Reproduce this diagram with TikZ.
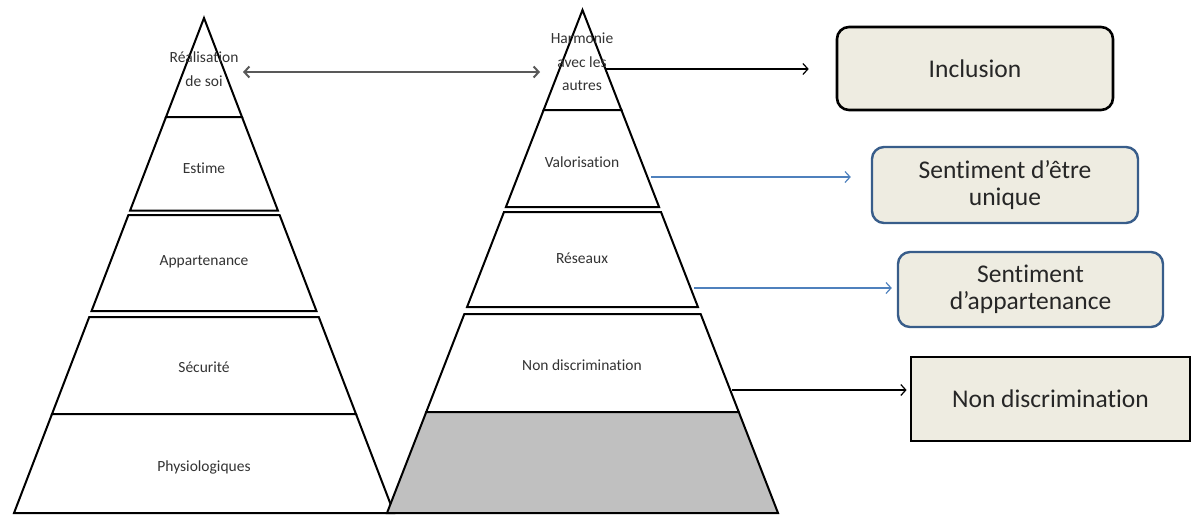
\documentclass[tikz,border=0pt]{standalone}
\usepackage{fontspec}
\setmainfont{Carlito}[Ligatures=NoCommon]
\usetikzlibrary{arrows.meta}

\definecolor{boxfill}{HTML}{EEECE1}
\definecolor{linkblue}{HTML}{4F81BD}
\definecolor{boxblue}{HTML}{385D8A}
\definecolor{basegray}{HTML}{C0C0C0}
\definecolor{labelgray}{HTML}{333333}

% one band of a pyramid: centre x, apex y, slope, top y, bottom y, extra style
\newcommand\pyrband[6]{%
  \draw[layer,#6] ({#1-#3*(#4-#2)},#4) -- ({#1+#3*(#4-#2)},#4)
    -- ({#1+#3*(#5-#2)},#5) -- ({#1-#3*(#5-#2)},#5) -- cycle;}

\tikzset{
  layer/.style={draw=black, line width=2pt, line join=miter, fill=white},
  level/.style={font=\fontsize{15.5}{23.5}\selectfont, text=labelgray, align=center, inner sep=0pt},
  target/.style={font=\fontsize{25.5}{27.5}\selectfont, text=black!85, align=center, fill=boxfill, inner sep=0pt},
  roundbox/.style={target, rounded corners=12pt},
  tip/.style={-{Straight Barb[length=5pt,width=11pt]}},
  blacklink/.style={tip, draw=black, line width=1.2pt},
  bluelink/.style={tip, draw=linkblue, line width=1.2pt},
}

\begin{document}
\begin{tikzpicture}[x=1pt, y=-1pt]
\useasboundingbox (0,0) rectangle (1197,515);

% needs pyramid
\pyrband{204}{18}{0.3838}{18}{117}{}
\pyrband{204}{18}{0.3838}{117}{210.5}{}
\pyrband{204}{18}{0.3838}{215}{311}{}
\pyrband{204}{18}{0.3838}{317}{414}{}
\pyrband{204}{18}{0.3838}{414}{513}{}

% inclusion pyramid
\pyrband{582.5}{10}{0.3887}{10}{110}{}
\pyrband{582.5}{10}{0.3887}{110}{207}{}
\pyrband{582.5}{10}{0.3887}{212}{307}{}
\pyrband{582.5}{10}{0.3887}{314}{412}{}
\pyrband{582.5}{10}{0.3887}{412}{513}{fill=basegray}

% level labels
\node[level] (lp1) at (204,69) {Réalisation\\de soi};
\node[level] (lp2) at (204,168) {Estime};
\node[level] (lp3) at (204,262) {Appartenance};
\node[level] (lp4) at (204,367) {Sécurité};
\node[level] (lp5) at (204,467) {Physiologiques};

\node[level] (rp1) at (582,62) {Harmonie\\avec les\\autres};
\node[level] (rp2) at (582,162) {Valorisation};
\node[level] (rp3) at (582,258) {Réseaux};
\node[level] (rp4) at (582,365) {Non discrimination};

% outcome boxes
\node[roundbox, draw=black, line width=2.6pt, minimum width=276pt, minimum height=83pt]
  (incl) at (975,68.5) {Inclusion};
\node[roundbox, draw=boxblue, line width=2.4pt, minimum width=266pt, minimum height=76pt]
  (uniq) at (1005,185) {Sentiment d’être\\unique};
\node[roundbox, draw=boxblue, line width=2.4pt, minimum width=265pt, minimum height=75pt]
  (appart) at (1030.5,289.5) {Sentiment\\d’appartenance};
\node[target, draw=black, line width=2.8pt, minimum width=279pt, minimum height=84pt]
  (nondis) at (1050.5,399) {Non discrimination};

% connector end points
\coordinate (dl) at (243,72);
\coordinate (dr) at (540,72);
\coordinate (s1) at (606,69);
\coordinate (s2) at (651,177);
\coordinate (s3) at (694,288);
\coordinate (s4) at (732,390);

% links
\draw[{Straight Barb[length=5pt,width=11pt]}-{Straight Barb[length=5pt,width=11pt]},
      draw=black!65, line width=2pt] (dl) -- (dr);
\draw[blacklink, shorten >=27pt] (s1) -- (s1 -| incl.west);
\draw[bluelink, shorten >=20pt] (s2) -- (s2 -| uniq.west);
\draw[bluelink, shorten >=5pt] (s3) -- (s3 -| appart.west);
\draw[blacklink, shorten >=3pt] (s4) -- (s4 -| nondis.west);
\end{tikzpicture}
\end{document}
